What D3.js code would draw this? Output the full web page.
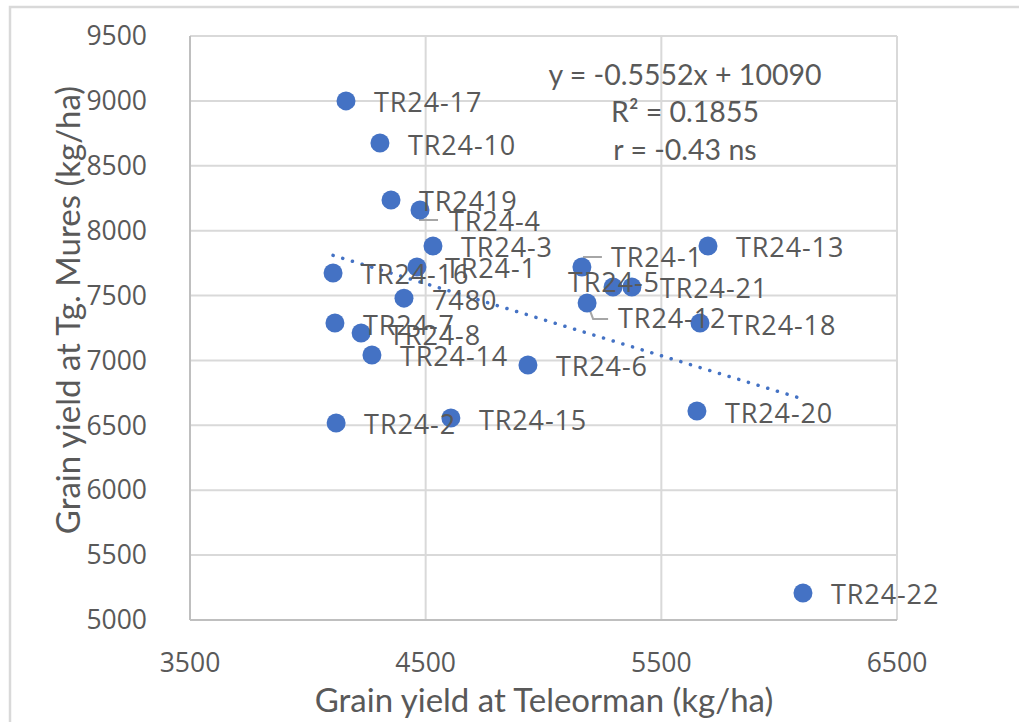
<!DOCTYPE html>
<html>
<head>
<meta charset="utf-8">
<script src="https://cdn.jsdelivr.net/npm/d3@7"></script>
<style>
  body { margin: 0; background: #fff; }
  svg text { fill: #595959; }
</style>
</head>
<body>
<div id="chart"></div>
<script>
// Genotype names and yields (kg/ha)
const genotypes = ["TR24-17", "TR24-10", "TR2419", "TR24-4", "TR24-3", "TR24-16", "TR24-1", "7480",
  "TR24-7", "TR24-8", "TR24-14", "TR24-6", "TR24-2", "TR24-15", "TR24-1", "TR24-5",
  "TR24-21", "TR24-12", "TR24-13", "TR24-18", "TR24-20", "TR24-22"];
const yieldTeleorman = [4162, 4306, 4353, 4476, 4531, 4107, 4463, 4408,
  4115, 4226, 4272, 4934, 4120, 4607, 5163, 5295,
  5375, 5185, 5698, 5664, 5651, 6101];
const yieldMures = [9000, 8675, 8236, 8159, 7882, 7674, 7720, 7480,
  7288, 7211, 7042, 6965, 6518, 6556, 7720, 7566,
  7566, 7443, 7882, 7288, 6610, 5208];

// Axis ticks
const xTicks = [3500, 4500, 5500, 6500];
const yTicks = [5000, 5500, 6000, 6500, 7000, 7500, 8000, 8500, 9000, 9500];

// Linear trend
const slope = -0.5552, intercept = 10090;
const statLines = ["y = -0.5552x + 10090", "R² = 0.1855", "r = -0.43 ns"];

const width = 1019, height = 722;
const margin = { top: 36, right: 122, bottom: 102, left: 190 };
const plotW = width - margin.left - margin.right;
const plotH = height - margin.top - margin.bottom;

const svg = d3.select("#chart").append("svg")
  .attr("width", width)
  .attr("height", height);

// Outer chart border (runs off the right and bottom edges)
svg.append("rect")
  .attr("x", 10).attr("y", 7)
  .attr("width", 1040).attr("height", 740)
  .attr("fill", "none")
  .attr("stroke", "#d9d9d9")
  .attr("stroke-width", 2.5);

const g = svg.append("g")
  .attr("transform", `translate(${margin.left},${margin.top})`);

const x = d3.scaleLinear().domain([3500, 6500]).range([0, plotW]);
const y = d3.scaleLinear().domain([5000, 9500]).range([plotH, 0]);

// Gridlines
g.append("g").selectAll("line.hg")
  .data(yTicks.slice(1))
  .enter().append("line")
    .attr("x1", 0).attr("x2", plotW)
    .attr("y1", d => y(d)).attr("y2", d => y(d))
    .attr("stroke", "#d9d9d9").attr("stroke-width", 2);
g.append("g").selectAll("line.vg")
  .data(xTicks.slice(1))
  .enter().append("line")
    .attr("x1", d => x(d)).attr("x2", d => x(d))
    .attr("y1", 0).attr("y2", plotH)
    .attr("stroke", "#d9d9d9").attr("stroke-width", 2);

// Axis lines
g.append("line")
  .attr("x1", 0).attr("x2", 0).attr("y1", 0).attr("y2", plotH)
  .attr("stroke", "#bfbfbf").attr("stroke-width", 2);
g.append("line")
  .attr("x1", 0).attr("x2", plotW).attr("y1", plotH).attr("y2", plotH)
  .attr("stroke", "#bfbfbf").attr("stroke-width", 2);

// Tick labels
g.append("g").selectAll("text")
  .data(yTicks)
  .enter().append("text")
    .attr("x", -43)
    .attr("y", d => y(d))
    .attr("dy", "0.35em")
    .attr("text-anchor", "end")
    .style("font-family", "'Open Sans', sans-serif")
    .style("font-size", "26.5px")
    .text(d => d);
g.append("g").selectAll("text")
  .data(xTicks)
  .enter().append("text")
    .attr("x", d => x(d))
    .attr("y", plotH + 43)
    .attr("dy", "0.35em")
    .attr("text-anchor", "middle")
    .style("font-family", "'Open Sans', sans-serif")
    .style("font-size", "26.5px")
    .text(d => d);

// Axis titles
svg.append("text")
  .attr("x", 544)
  .attr("y", 700)
  .attr("dy", "0.35em")
  .attr("text-anchor", "middle")
  .style("font-family", "Lato, sans-serif")
  .style("font-size", "33px")
  .text("Grain yield at Teleorman (kg/ha)");
svg.append("text")
  .attr("transform", "translate(68,310) rotate(-90)")
  .attr("dy", "0.35em")
  .attr("text-anchor", "middle")
  .style("font-family", "Lato, sans-serif")
  .style("font-size", "33px")
  .text("Grain yield at Tg. Mures (kg/ha)");

// Trendline over the data range
const xExt = d3.extent(yieldTeleorman);
g.append("line")
  .attr("x1", x(xExt[0])).attr("y1", y(slope * xExt[0] + intercept))
  .attr("x2", x(xExt[1])).attr("y2", y(slope * xExt[1] + intercept))
  .attr("stroke", "#4472c4")
  .attr("stroke-width", 3.5)
  .attr("stroke-linecap", "round")
  .attr("stroke-dasharray", "0.1 10");

// Trend statistics
g.append("g").selectAll("text")
  .data(statLines)
  .enter().append("text")
    .attr("x", 685 - margin.left)
    .attr("y", (d, i) => 39 + i * 37.5)
    .attr("dy", "0.35em")
    .attr("text-anchor", "middle")
    .style("font-family", "Lato, sans-serif")
    .style("font-size", "28.5px")
    .text(d => d);

const points = genotypes.map((name, i) => ({ name, tx: yieldTeleorman[i], ty: yieldMures[i], i }));

// Label placement: default to the right, a few moved with leader lines
const labelOffset = { 3: [29, 12], 14: [29, -9], 15: [-45, -4], 17: [31, 16] };
const leaders = {
  3: [[0, 0], [0, 10], [18, 10]],
  14: [[0, 0], [2, -10], [20, -10]],
  17: [[0, 0], [6, 16], [21, 16]]
};

// Leader lines
g.append("g").selectAll("path")
  .data(points.filter(d => leaders[d.i]))
  .enter().append("path")
    .attr("d", d => d3.line()(leaders[d.i].map(p => [x(d.tx) + p[0], y(d.ty) + p[1]])))
    .attr("fill", "none")
    .attr("stroke", "#a6a6a6")
    .attr("stroke-width", 2);

// Markers
g.append("g").selectAll("circle")
  .data(points)
  .enter().append("circle")
    .attr("cx", d => x(d.tx))
    .attr("cy", d => y(d.ty))
    .attr("r", 9.5)
    .attr("fill", "#4472c4");

// Data labels
g.append("g").selectAll("text")
  .data(points)
  .enter().append("text")
    .attr("x", d => x(d.tx) + (labelOffset[d.i] ? labelOffset[d.i][0] : 28))
    .attr("y", d => y(d.ty) + (labelOffset[d.i] ? labelOffset[d.i][1] : 2))
    .attr("dy", "0.35em")
    .style("font-family", "'Open Sans', sans-serif")
    .style("font-size", "27px")
    .style("letter-spacing", "0.9px")
    .text(d => d.name);
</script>
</body>
</html>
